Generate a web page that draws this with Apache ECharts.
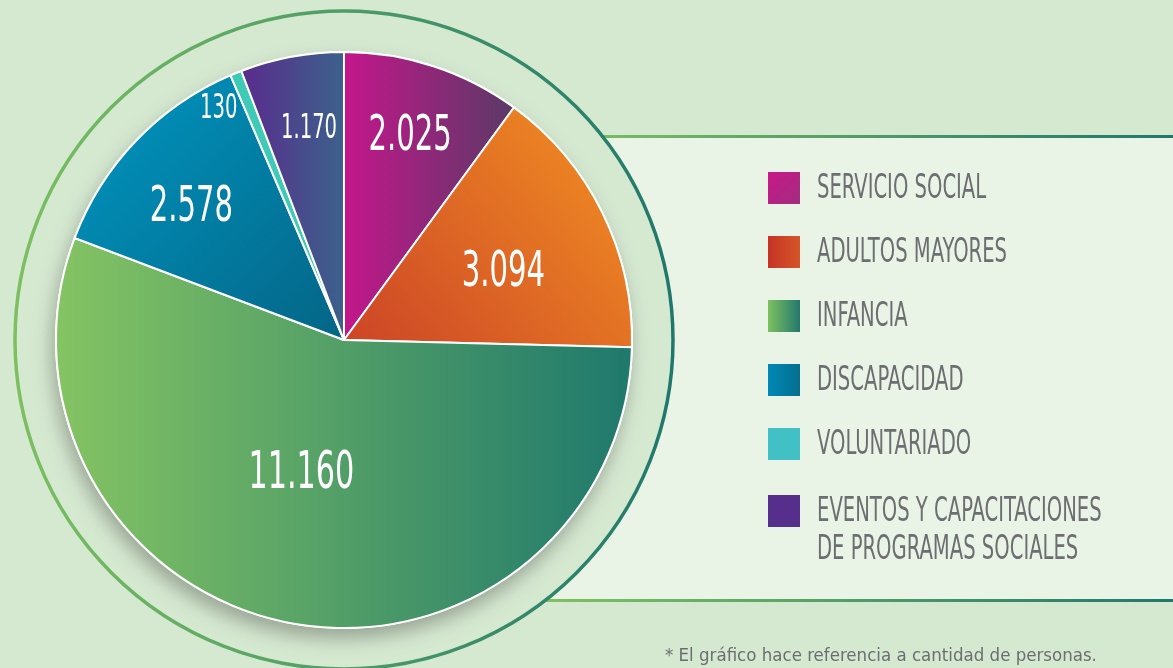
<!DOCTYPE html>
<html>
<head>
<meta charset="utf-8">
<script src="https://cdn.jsdelivr.net/npm/echarts@6/dist/echarts.min.js"></script>
<style>
  html, body { margin: 0; padding: 0; background: #d5e8d0; }
  #chart { width: 1173px; height: 668px; }
</style>
</head>
<body>
<div id="chart"></div>
<script>
// datos
const categories = [
  'SERVICIO SOCIAL',
  'ADULTOS MAYORES',
  'INFANCIA',
  'DISCAPACIDAD',
  'VOLUNTARIADO',
  'EVENTOS Y CAPACITACIONES DE PROGRAMAS SOCIALES'
];
const values = [2025, 3094, 11160, 2578, 130, 1170];

// layout / estilos
const CX = 344, CY = 340, R = 288, RING = 329;
const FONT = '"DejaVu Sans Condensed", "DejaVu Sans", sans-serif';
const SQUEEZE = 0.66; // la tipografía original es muy condensada
const labelSizes = [49, 49, 51, 49, 33, 33];
const labelRadius = [0.74, 0.60, 0.49, 0.70, 0.91, 0.74];
const labelShift = [0, 3.5, 6.5, -3, -6.5, 1];
const legendTop = [172, 236, 300, 364, 428, 495];

function grad(x0, y0, x1, y1, c0, c1) {
  return new echarts.graphic.LinearGradient(x0, y0, x1, y1, [
    { offset: 0, color: c0 },
    { offset: 1, color: c1 }
  ]);
}

const sliceColors = [
  grad(0, 0, 1, 0, '#c4168b', '#5a3a66'),
  grad(0, 1, 1, 0, '#cc4327', '#f39322'),
  grad(0, 0, 1, 0, '#85c463', '#1e786c'),
  grad(0, 0, 1, 1, '#0097c2', '#046586'),
  '#3ecab6',
  grad(0, 0, 1, 0, '#5a2b8d', '#3b628b')
];
const legendColors = [
  grad(0, 0, 1, 1, '#c81888', '#a22d80'),
  grad(0, 0, 1, 0, '#c63326', '#d55628'),
  grad(0, 0, 1, 0, '#7dc160', '#22786d'),
  grad(0, 0, 1, 0, '#0088b5', '#046f8f'),
  '#41c0c6',
  '#552f8b'
];

function fmt(v) {
  return String(v).replace(/\B(?=(\d{3})+(?!\d))/g, '.');
}

const total = values.reduce((a, b) => a + b, 0);

// etiquetas de valor (texto condensado)
const valueTexts = [];
let cum = 0;
values.forEach((v, i) => {
  const ang = ((cum + v / 2) / total * 360 + labelShift[i]) * Math.PI / 180;
  cum += v;
  const d = R * labelRadius[i];
  valueTexts.push({
    type: 'text', z: 10,
    x: CX + d * Math.sin(ang), y: CY - d * Math.cos(ang),
    scaleX: SQUEEZE,
    silent: true,
    style: { text: fmt(v), fill: '#ffffff', font: labelSizes[i] + 'px ' + FONT,
      align: 'center', verticalAlign: 'middle' }
  });
});

// leyenda
const legendEls = [];
categories.forEach((n, i) => {
  legendEls.push({ type: 'rect', z: 10, shape: { x: 768, y: legendTop[i], width: 32, height: 32 },
    style: { fill: legendColors[i] } });
  const lines = n.replace(' DE PROGRAMAS', '\nDE PROGRAMAS');
  legendEls.push({ type: 'text', z: 10, x: 817, y: legendTop[i] + 17, scaleX: SQUEEZE,
    style: { text: lines, fill: '#6d6e71', font: '33px ' + FONT, lineHeight: 38,
      align: 'left', verticalAlign: 'top', padding: [-19, 0, 0, 0] } });
});

const chart = echarts.init(document.getElementById('chart'));

const option = {
  backgroundColor: '#d5e8d0',
  animation: false,
  graphic: {
    elements: [
      // panel de la leyenda
      { type: 'rect', z: 0, shape: { x: 540, y: 136, width: 633, height: 465 },
        style: { fill: '#eaf4e6' } },
      { type: 'rect', z: 0, shape: { x: 540, y: 135, width: 633, height: 3 },
        style: { fill: grad(0, 0, 1, 0, '#80c262', '#1f786d') } },
      { type: 'rect', z: 0, shape: { x: 540, y: 599, width: 633, height: 3 },
        style: { fill: grad(0, 0, 1, 0, '#80c262', '#1f786d') } },
      // anillo exterior
      { type: 'circle', z: 1, shape: { cx: CX, cy: CY, r: RING },
        style: { fill: '#d5e8d0', lineWidth: 3.5,
          stroke: grad(0, 0, 1, 0, '#7cc060', '#1f786d') } },
      // sombra del pie
      { type: 'circle', z: 1, shape: { cx: CX, cy: CY, r: R + 1 },
        style: { fill: '#ffffff', shadowBlur: 18, shadowOffsetX: -3, shadowOffsetY: 10,
          shadowColor: 'rgba(0,0,0,0.28)' } },
      // nota
      { type: 'text', z: 3, x: 665, y: 656,
        style: { text: '* El gráfico hace referencia a cantidad de personas.',
          fill: '#6d6e71', font: '18.5px ' + FONT, verticalAlign: 'middle' } }
    ].concat(valueTexts, legendEls)
  },
  series: [
    {
      type: 'pie',
      center: [CX, CY],
      radius: [0, R],
      startAngle: 90,
      clockwise: true,
      silent: true,
      itemStyle: { borderColor: '#ffffff', borderWidth: 2 },
      label: { show: false },
      labelLine: { show: false },
      data: categories.map((n, i) => ({
        name: n,
        value: values[i],
        itemStyle: { color: sliceColors[i] }
      }))
    }
  ]
};

chart.setOption(option);
</script>
</body>
</html>
